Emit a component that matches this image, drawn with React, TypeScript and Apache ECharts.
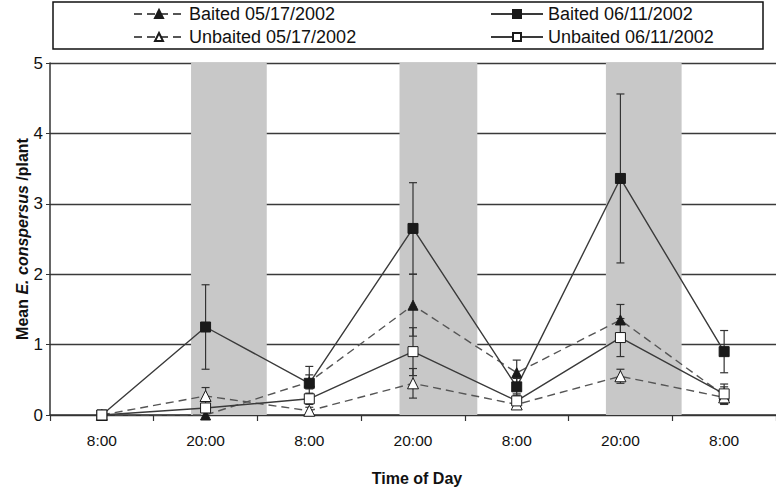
import React, { useEffect, useRef } from "react";
import * as echarts from "echarts";

const timeLabels = ["8:00", "20:00", "8:00", "20:00", "8:00", "20:00", "8:00"];

const baited0517 = [0, 0.0, 0.47, 1.56, 0.6, 1.35, 0.28];
const baited0517Err = [0, 0, 0.1, 0.44, 0.18, 0.22, 0.12];

const unbaited0517 = [0, 0.27, 0.06, 0.45, 0.15, 0.55, 0.25];
const unbaited0517Err = [0, 0.12, 0.05, 0.21, 0.07, 0.1, 0.1];

const baited0611 = [0, 1.25, 0.45, 2.65, 0.4, 3.36, 0.9];
const baited0611Err = [0, 0.6, 0.24, 0.65, 0.12, 1.2, 0.3];

const unbaited0611 = [0, 0.1, 0.23, 0.9, 0.2, 1.1, 0.3];
const unbaited0611Err = [0, 0.05, 0.08, 0.34, 0.1, 0.27, 0.14];

// night periods, in category-width units from the left edge of the axis
const nightBands = [
  [1.36, 2.09],
  [3.37, 4.12],
  [5.36, 6.09],
];

const FONT = "Liberation Sans, Arial, sans-serif";

function errData(vals: number[], errs: number[]) {
  const out: number[][] = [];
  vals.forEach((v, i) => {
    if (errs[i] > 0) out.push([i, Math.max(0, v - errs[i]), v + errs[i]]);
  });
  return out;
}

function errSeries(vals: number[], errs: number[]) {
  return {
    type: "custom",
    xAxisIndex: 0,
    yAxisIndex: 0,
    z: 1,
    silent: true,
    data: errData(vals, errs),
    renderItem: (params: any, api: any) => {
      const x = api.value(0);
      const top = api.coord([x, api.value(2)]);
      const bot = api.coord([x, api.value(1)]);
      const w = 4;
      const st = { stroke: "#333", lineWidth: 1.2 };
      return {
        type: "group",
        children: [
          { type: "line", shape: { x1: top[0], y1: top[1], x2: bot[0], y2: bot[1] }, style: st },
          { type: "line", shape: { x1: top[0] - w, y1: top[1], x2: top[0] + w, y2: top[1] }, style: st },
          { type: "line", shape: { x1: bot[0] - w, y1: bot[1], x2: bot[0] + w, y2: bot[1] }, style: st },
        ],
      };
    },
  };
}

export default function App() {
  const ref = useRef<HTMLDivElement>(null);
  useEffect(() => {
    if (!ref.current) return;
    const chart = echarts.init(ref.current, undefined, { renderer: "svg" });
    const lineSeries = (
      name: string,
      data: number[],
      symbol: string,
      size: number,
      filled: boolean,
      dashed: boolean
    ) => ({
      name,
      type: "line",
      data,
      symbol,
      symbolSize: size,
      showSymbol: true,
      showAllSymbol: true,
      z: 3,
      lineStyle: {
        color: dashed ? "#555" : "#3a3a3a",
        width: 1.4,
        type: dashed ? [8, 5] : "solid",
      },
      itemStyle: {
        color: filled ? "#1a1a1a" : "#ffffff",
        borderColor: "#1a1a1a",
        borderWidth: 1,
      },
    });

    const legendText = { fontSize: 18, color: "#111", fontFamily: FONT, lineHeight: 18 };

    chart.setOption({
      animation: false,
      backgroundColor: "#ffffff",
      textStyle: { fontFamily: FONT },
      grid: { left: 50, top: 63, width: 734, height: 352, containLabel: false },
      legend: [
        {
          data: ["Baited 05/17/2002", "Unbaited 05/17/2002"],
          orient: "vertical",
          left: 128,
          top: 0,
          itemGap: 5,
          itemWidth: 50,
          itemHeight: 10,
          textStyle: legendText,
        },
        {
          data: ["Baited 06/11/2002", "Unbaited 06/11/2002"],
          orient: "vertical",
          left: 485,
          top: 0,
          itemGap: 5,
          itemWidth: 52,
          itemHeight: 10,
          textStyle: legendText,
        },
      ],
      xAxis: [
        {
          type: "category",
          data: timeLabels,
          boundaryGap: true,
          axisLine: { lineStyle: { color: "#333", width: 1.5 } },
          axisTick: { show: true, length: 6, lineStyle: { color: "#333", width: 1.2 } },
          axisLabel: { fontSize: 15.5, color: "#111", margin: 17, fontFamily: FONT, interval: 0 },
          splitLine: { show: false },
        },
        {
          type: "value",
          min: 0,
          max: 7,
          show: false,
          splitLine: { show: false },
        },
      ],
      yAxis: {
        type: "value",
        min: 0,
        max: 5,
        interval: 1,
        name: "Mean {i|E. conspersus} /plant",
        nameLocation: "middle",
        nameRotate: 90,
        nameGap: 20,
        nameMoveOverlap: false,
        nameTextStyle: {
          fontSize: 16,
          fontWeight: "bold",
          color: "#111",
          fontFamily: FONT,
          rich: {
            i: { fontSize: 16, fontWeight: "bold", fontStyle: "italic", color: "#111", fontFamily: FONT },
          },
        },
        axisLine: { show: true, lineStyle: { color: "#333", width: 1.5 } },
        axisTick: { show: true, length: 4, lineStyle: { color: "#333" } },
        axisLabel: { fontSize: 17, color: "#111", margin: 7, fontFamily: FONT },
        splitLine: { show: true, lineStyle: { color: "#3a3a3a", width: 1.4 } },
      },
      graphic: [
        {
          type: "rect",
          shape: { x: 53, y: 2, width: 710, height: 47 },
          style: { fill: "none", stroke: "#111", lineWidth: 1.5 },
        },
        {
          type: "text",
          x: 417,
          y: 478,
          style: {
            text: "Time of Day",
            font: "bold 16px " + FONT,
            fill: "#111",
            textAlign: "center",
            textVerticalAlign: "middle",
          },
        },
      ],
      series: [
        {
          type: "line",
          xAxisIndex: 1,
          yAxisIndex: 0,
          data: [],
          z: -5,
          silent: true,
          markArea: {
            silent: true,
            itemStyle: { color: "#c8c8c8" },
            data: nightBands.map((b) => [{ xAxis: b[0] }, { xAxis: b[1] }]),
          },
        },
        errSeries(baited0517, baited0517Err),
        errSeries(unbaited0517, unbaited0517Err),
        errSeries(baited0611, baited0611Err),
        errSeries(unbaited0611, unbaited0611Err),
        lineSeries("Baited 05/17/2002", baited0517, "triangle", 10, true, true),
        lineSeries("Unbaited 05/17/2002", unbaited0517, "triangle", 11, false, true),
        lineSeries("Baited 06/11/2002", baited0611, "rect", 10, true, false),
        lineSeries("Unbaited 06/11/2002", unbaited0611, "rect", 10, false, false),
      ],
    });
    return () => chart.dispose();
  }, []);
  return (
    <div
      ref={ref}
      style={{ position: "fixed", left: 0, top: 0, width: 776, height: 490, background: "#fff" }}
    />
  );
}
